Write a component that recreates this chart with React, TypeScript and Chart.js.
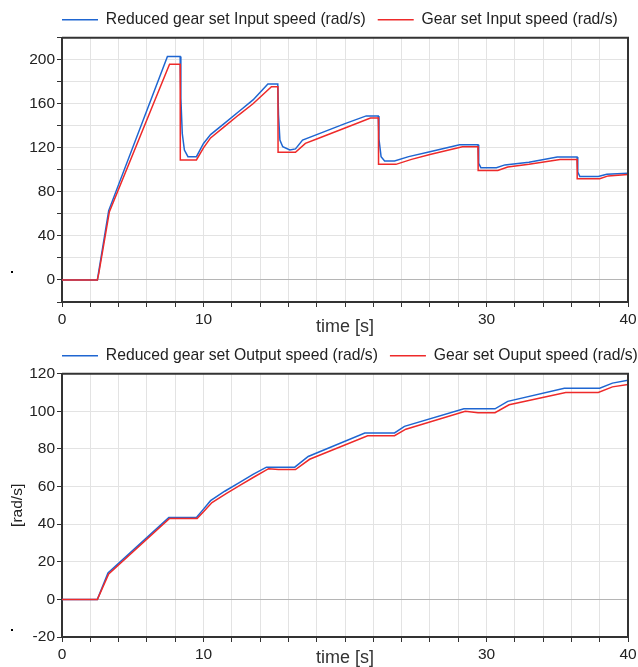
import React, { useEffect, useRef } from 'react';
import { Chart, registerables } from 'chart.js';

Chart.register(...registerables);

const FONT = "'Liberation Sans', Arial, Helvetica, sans-serif";
Chart.defaults.font.family = FONT;

const BLUE = '#1f66d1';
const RED = '#ee2a2a';

// ---------- top chart: input speeds ----------
const inBlueTime = [0, 2.5, 2.6, 3.3, 7.45, 8.35, 8.4, 8.5, 8.65, 8.9, 9.5, 10.0, 10.5, 11.5, 12.5, 13.5, 14.55, 15.25, 15.3, 15.4, 15.6, 16.1, 16.5, 17.0, 18.0, 19.0, 20.0, 21.5, 22.35, 22.4, 22.55, 22.8, 23.5, 24.5, 26.0, 28.1, 29.4, 29.45, 29.6, 30.7, 31.3, 33.0, 35.0, 36.4, 36.45, 36.6, 37.9, 38.5, 40];
const inBlueSpeed = [0, 0, 8, 63, 203, 203, 165, 133, 118, 112, 112, 124, 132, 142.5, 153, 163.5, 178, 178, 150, 127, 121, 118, 119, 127, 132, 137, 142, 149, 149, 128, 112, 108, 108, 112, 116.5, 122.8, 122.8, 106, 102, 102, 104.5, 107, 111.6, 111.6, 98, 94, 94, 96, 97];
const inRedTime = [0, 2.5, 2.6, 3.35, 7.6, 8.35, 8.36, 9.5, 10.0, 10.5, 11.5, 12.5, 13.5, 14.8, 15.26, 15.27, 16.5, 17.2, 18.0, 19.0, 20.0, 21.8, 22.36, 22.37, 23.6, 24.7, 26.0, 28.3, 29.4, 29.41, 30.8, 31.5, 33.0, 35.2, 36.4, 36.41, 38.0, 38.6, 40];
const inRedSpeed = [0, 0, 6, 62, 196, 196, 109, 109, 120, 129, 139.5, 150, 160, 175.5, 175.5, 116, 116, 124, 128, 133, 138, 147, 147, 105, 105, 109.5, 114, 121, 121, 99.5, 99.5, 102.5, 105, 109.5, 109.5, 92, 92, 94.5, 95.7];

// ---------- bottom chart: output speeds ----------
const outBlueTime = [0, 2.5, 3.25, 7.55, 9.5, 10.0, 10.5, 11.5, 12.5, 13.5, 14.45, 16.45, 17.4, 21.4, 23.5, 24.2, 28.4, 30.6, 31.5, 35.5, 38.0, 38.9, 40];
const outBlueSpeed = [0, 0, 14, 43.5, 43.5, 48, 52.5, 57.5, 62, 66.5, 70.3, 70.3, 76, 88.5, 88.5, 92, 101.3, 101.3, 105.3, 112.3, 112.3, 115, 116.5];
const outRedTime = [0, 2.5, 3.3, 7.6, 9.55, 10.05, 10.6, 11.6, 12.6, 13.6, 14.6, 15.3, 16.5, 17.5, 21.6, 23.5, 24.3, 28.5, 29.4, 30.6, 31.6, 35.6, 37.9, 38.9, 40];
const outRedSpeed = [0, 0, 13.5, 43, 43, 47, 51.5, 56.2, 60.7, 65.2, 69.5, 69, 69, 74.5, 87, 87, 90.5, 100, 99.3, 99.3, 103.5, 110, 110, 113, 114.2];

// ---------- axis labels ----------
const xLabelValues = [0, 10, 30, 40];
const topYLabelValues = [0, 40, 80, 120, 160, 200];
const bottomYLabelValues = [-20, 0, 20, 40, 60, 80, 100, 120];

const topLegend = ['Reduced gear set Input speed (rad/s)', 'Gear set Input speed (rad/s)'];
const bottomLegend = ['Reduced gear set Output speed (rad/s)', 'Gear set Ouput speed (rad/s)'];
const xTitle = 'time [s]';
const bottomYTitle = '[rad/s]';

const toPoints = (t: number[], v: number[]) => t.map((x, i) => ({ x, y: v[i] }));

const framePlugin = {
  id: 'frame',
  afterLayout(chart: any) {
    const lg = chart.legend;
    if (lg) {
      lg.left = 50;
      lg.right = 720;
      lg.width = lg.right - lg.left;
    }
  },
  afterDraw(chart: any) {
    const { ctx, chartArea } = chart;
    const { left, right, top, bottom } = chartArea;
    ctx.save();
    ctx.strokeStyle = '#333';
    ctx.lineWidth = 2;
    ctx.beginPath();
    ctx.moveTo(left, top);
    ctx.lineTo(right, top);
    ctx.lineTo(right, bottom);
    ctx.stroke();
    ctx.restore();
  },
};

type Cfg = {
  labels: string[];
  blue: { x: number; y: number }[];
  red: { x: number; y: number }[];
  yMin: number;
  yMax: number;
  yLabels: number[];
  xAxisHeight: number;
  yTitle?: string;
};

function makeConfig(c: Cfg): any {
  const tickFont = { family: FONT, size: 15.5 };
  return {
    type: 'line',
    data: {
      datasets: [
        { label: c.labels[0], data: c.blue, borderColor: BLUE, backgroundColor: BLUE, borderWidth: 1.5, pointRadius: 0, tension: 0, fill: false, order: 1 },
        { label: c.labels[1], data: c.red, borderColor: RED, backgroundColor: RED, borderWidth: 1.5, pointRadius: 0, tension: 0, fill: false, order: 0 },
      ],
    },
    options: {
      responsive: false,
      animation: false,
      events: [],
      layout: { padding: { left: 0, right: -30, top: 0, bottom: 0 } },
      plugins: {
        legend: {
          position: 'top',
          align: 'start',
          labels: {
            usePointStyle: true,
            pointStyle: 'line',
            pointStyleWidth: 36,
            padding: 12,
            color: '#222',
            font: { family: FONT, size: 15.7 },
            sort: (a: any, b: any) => a.datasetIndex - b.datasetIndex,
          },
        },
        tooltip: { enabled: false },
      },
      scales: {
        x: {
          type: 'linear',
          min: 0,
          max: 40,
          afterFit: (s: any) => {
            s.height = c.xAxisHeight;
            s.paddingRight = 10;
            s.paddingLeft = 0;
          },
          ticks: {
            stepSize: 2,
            autoSkip: false,
            maxRotation: 0,
            padding: 3,
            color: '#222',
            font: tickFont,
            callback: (v: number) => (xLabelValues.includes(v) ? String(v) : ''),
          },
          grid: { color: '#e3e3e3', tickColor: '#333', tickLength: 5, lineWidth: 1 },
          border: { color: '#333', width: 2 },
          title: { display: true, text: xTitle, color: '#333', font: { family: FONT, size: 18 }, padding: { top: 0, bottom: -1.8 } },
        },
        y: {
          type: 'linear',
          min: c.yMin,
          max: c.yMax,
          afterFit: (s: any) => {
            s.width = 62;
            s.paddingTop = 0;
            s.paddingBottom = 0;
          },
          ticks: {
            stepSize: 20,
            autoSkip: false,
            padding: 2,
            color: '#222',
            font: tickFont,
            callback: (v: number) => (c.yLabels.includes(v) ? String(v) : ''),
          },
          grid: {
            color: (ctx: any) => (ctx.tick && ctx.tick.value === 0 ? '#b5b5b5' : '#e3e3e3'),
            tickColor: '#333',
            tickLength: 5,
            lineWidth: 1,
          },
          border: { color: '#333', width: 2 },
          title: c.yTitle
            ? { display: true, text: c.yTitle, color: '#222', font: tickFont, padding: { top: 8.2, bottom: 0 } }
            : { display: false },
        },
      },
    },
    plugins: [framePlugin],
  };
}

function ChartCanvas({ cfg, top, height }: { cfg: Cfg; top: number; height: number }) {
  const ref = useRef<HTMLCanvasElement | null>(null);
  useEffect(() => {
    if (!ref.current) return;
    const chart = new Chart(ref.current, makeConfig(cfg));
    return () => chart.destroy();
  }, []);
  return (
    <canvas
      ref={ref}
      width={638}
      height={height}
      style={{ position: 'absolute', left: 0, top, width: 638, height, display: 'block' }}
    />
  );
}

const topCfg: Cfg = {
  labels: topLegend,
  blue: toPoints(inBlueTime, inBlueSpeed),
  red: toPoints(inRedTime, inRedSpeed),
  yMin: -20,
  yMax: 220,
  yLabels: topYLabelValues,
  xAxisHeight: 34,
};

const bottomCfg: Cfg = {
  labels: bottomLegend,
  blue: toPoints(outBlueTime, outBlueSpeed),
  red: toPoints(outRedTime, outRedSpeed),
  yMin: -20,
  yMax: 120,
  yLabels: bottomYLabelValues,
  xAxisHeight: 30,
  yTitle: bottomYTitle,
};

export default function App() {
  return (
    <div style={{ position: 'fixed', left: 0, top: 0, width: 638, height: 667, background: '#fff', overflow: 'hidden' }}>
      <ChartCanvas cfg={topCfg} top={0} height={336} />
      <ChartCanvas cfg={bottomCfg} top={336} height={331} />
      <div style={{ position: 'absolute', left: 11, top: 271, width: 2, height: 2, background: '#000' }} />
      <div style={{ position: 'absolute', left: 11, top: 629, width: 2, height: 2, background: '#000' }} />
    </div>
  );
}
